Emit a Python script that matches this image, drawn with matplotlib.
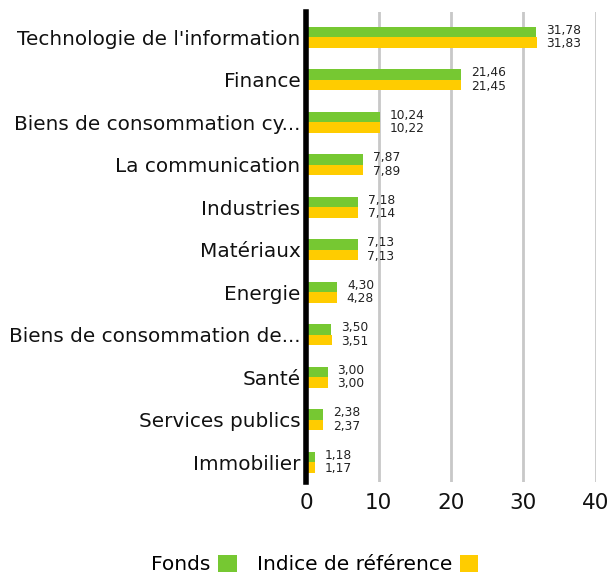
import matplotlib.pyplot as plt
import numpy as np

# sector weights, fund vs benchmark
secteurs = ["Technologie de l'information", "Finance", "Biens de consommation cy...",
            "La communication", "Industries", "Matériaux", "Energie",
            "Biens de consommation de...", "Santé", "Services publics", "Immobilier"]
fonds = [31.78, 21.46, 10.24, 7.87, 7.18, 7.13, 4.30, 3.50, 3.00, 2.38, 1.18]
indice = [31.83, 21.45, 10.22, 7.89, 7.14, 7.13, 4.28, 3.51, 3.00, 2.37, 1.17]
xticks = [0, 10, 20, 30, 40]

vert = '#76c832'
jaune = '#ffcc00'

plt.rcParams['font.family'] = ['DejaVu Sans']

fig = plt.figure(figsize=(6.11, 5.76), dpi=100)
ax = fig.add_axes([0.501, 0.163, 0.474, 0.816])

y = np.arange(len(secteurs))
h = 0.25
b1 = ax.barh(y - h/2, fonds, height=h, color=vert, label='Fonds', zorder=3)
b2 = ax.barh(y + h/2, indice, height=h, color=jaune, label='Indice de référence', zorder=3)

def fmt(v):
	return ('%.2f' % v).replace('.', ',')

for i in range(len(secteurs)):
	ax.annotate(fmt(fonds[i]), (fonds[i], y[i] - h/2), xytext=(7, 1.0), textcoords='offset points',
		va='center', ha='left', fontsize=8.8, color='#222222')
	ax.annotate(fmt(indice[i]), (indice[i], y[i] + h/2), xytext=(7, -1.0), textcoords='offset points',
		va='center', ha='left', fontsize=8.8, color='#222222')

ax.set_xlim(0, 40)
ax.set_ylim(10.47, -0.59)
ax.set_yticks(y)
ax.set_yticklabels(secteurs, fontsize=14.4, color='#111111')
ax.set_xticks(xticks)
ax.set_xticklabels([str(t) for t in xticks], fontsize=15.5, color='#111111')
ax.tick_params(length=0, pad=4)
ax.tick_params(axis='x', pad=8)

ax.grid(axis='x', color='#c8c8c8', linewidth=2, zorder=0)
for s in ['top', 'right', 'bottom']:
	ax.spines[s].set_visible(False)
ax.spines['left'].set_linewidth(4)
ax.spines['left'].set_color('black')
ax.spines['left'].set_zorder(4)

fig.legend(handles=[b1, b2], loc='center', bbox_to_anchor=(0.515, 0.02), ncol=2,
	frameon=False, markerfirst=False, fontsize=14.5, handlelength=0.9, handleheight=0.9,
	handletextpad=0.4, columnspacing=1.0)

fig.savefig('out.png', dpi=100)
